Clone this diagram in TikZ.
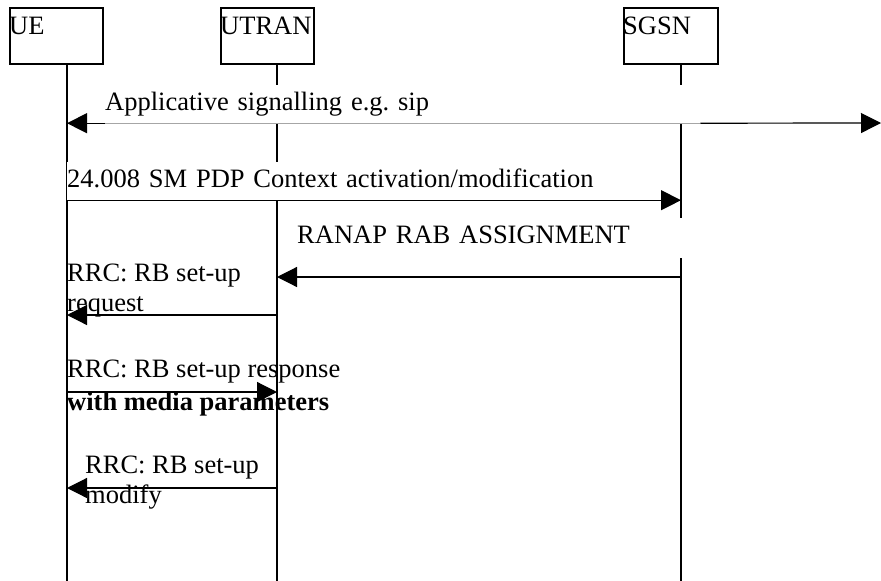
\documentclass[tikz,border=0pt]{standalone}
\usepackage{fontspec}
\setmainfont{Liberation Serif}
\usepackage{tikz}
\usetikzlibrary{arrows.meta}
\frenchspacing
\tikzset{entity/.style={draw, line width=1.5pt, anchor=north west,
        minimum width=93pt, minimum height=56pt, inner sep=0pt},
    lifeline/.style={line width=1.5pt},
    msg/.style={line width=1.2pt, -{Triangle[length=20pt,width=20pt]}},
    msgtext/.style={inner sep=0pt, anchor=base west, align=left},
    cover/.style={fill=white, inner sep=0pt, anchor=base west,
        text height=25pt, text depth=13pt}}

\begin{document}
\begin{tikzpicture}[x=1pt, y=-1pt,
        font=\fontsize{26.5}{29.5}\selectfont]
    \useasboundingbox (0,0) rectangle (881,581);
    % entities
    \node[entity, label={[anchor=north west, inner sep=0pt, yshift=-10pt]north west:UE}] (ue) at (9,7) {};
    \node[entity, label={[anchor=north west, inner sep=0pt, yshift=-10pt]north west:UTRAN}] (utran) at (220,7) {};
    \node[entity, minimum width=94pt, label={[anchor=north west, inner sep=0pt, yshift=-10pt]north west:SGSN}] (sgsn) at (623,7) {};
    \coordinate (ue-l) at (67,63);
    \coordinate (utran-l) at (277,63);
    \coordinate (sgsn-l) at (681,63);
    \coordinate (bottom) at (0,581);
    \coordinate (far) at (881,123);
    % lifelines
    \draw[lifeline] (ue-l) -- (ue-l |- bottom);
    \draw[lifeline] (utran-l) -- (utran-l |- bottom);
    \draw[lifeline] (sgsn-l) -- (sgsn-l |- bottom);
    % message labels
    \node[cover, text width=595pt] (app) at (105,110) {Applicative signalling e.g. sip};
    \node[cover, text width=530pt] (pdp) at (67,187) {24.008 SM PDP Context activation/modification};
    \node[cover, text width=400pt, text depth=15pt] (ranap) at (297,243) {RANAP RAB ASSIGNMENT};
    \node[msgtext] (req) at (67,311) {RRC: RB set-up\\request};
    \node[msgtext] (resp) at (67,410) {RRC: RB set-up response\\[3.5pt]\textbf{with media parameters}};
    \node[msgtext] (mod) at (85,503) {RRC: RB set-up\\modify};
    \coordinate (m-rab) at (0,277);
    \coordinate (m-req) at (0,315);
    \coordinate (m-resp) at (0,392);
    \coordinate (m-mod) at (0,488);
    % messages
    \draw[gray!70, line width=0.8pt] (app.south west) -- (app.south east);
    \draw[msg] (app.south west) -- (ue-l |- app.south);
    \draw[msg] (app.south east) -- (far);
    \draw[msg] (pdp.south west) -- (sgsn-l |- pdp.south);
    \draw[msg] (sgsn-l |- m-rab) -- (utran-l |- m-rab);
    \draw[msg] (utran-l |- m-req) -- (ue-l |- m-req);
    \draw[msg] (ue-l |- m-resp) -- (utran-l |- m-resp);
    \draw[msg] (utran-l |- m-mod) -- (ue-l |- m-mod);
\end{tikzpicture}
\end{document}
